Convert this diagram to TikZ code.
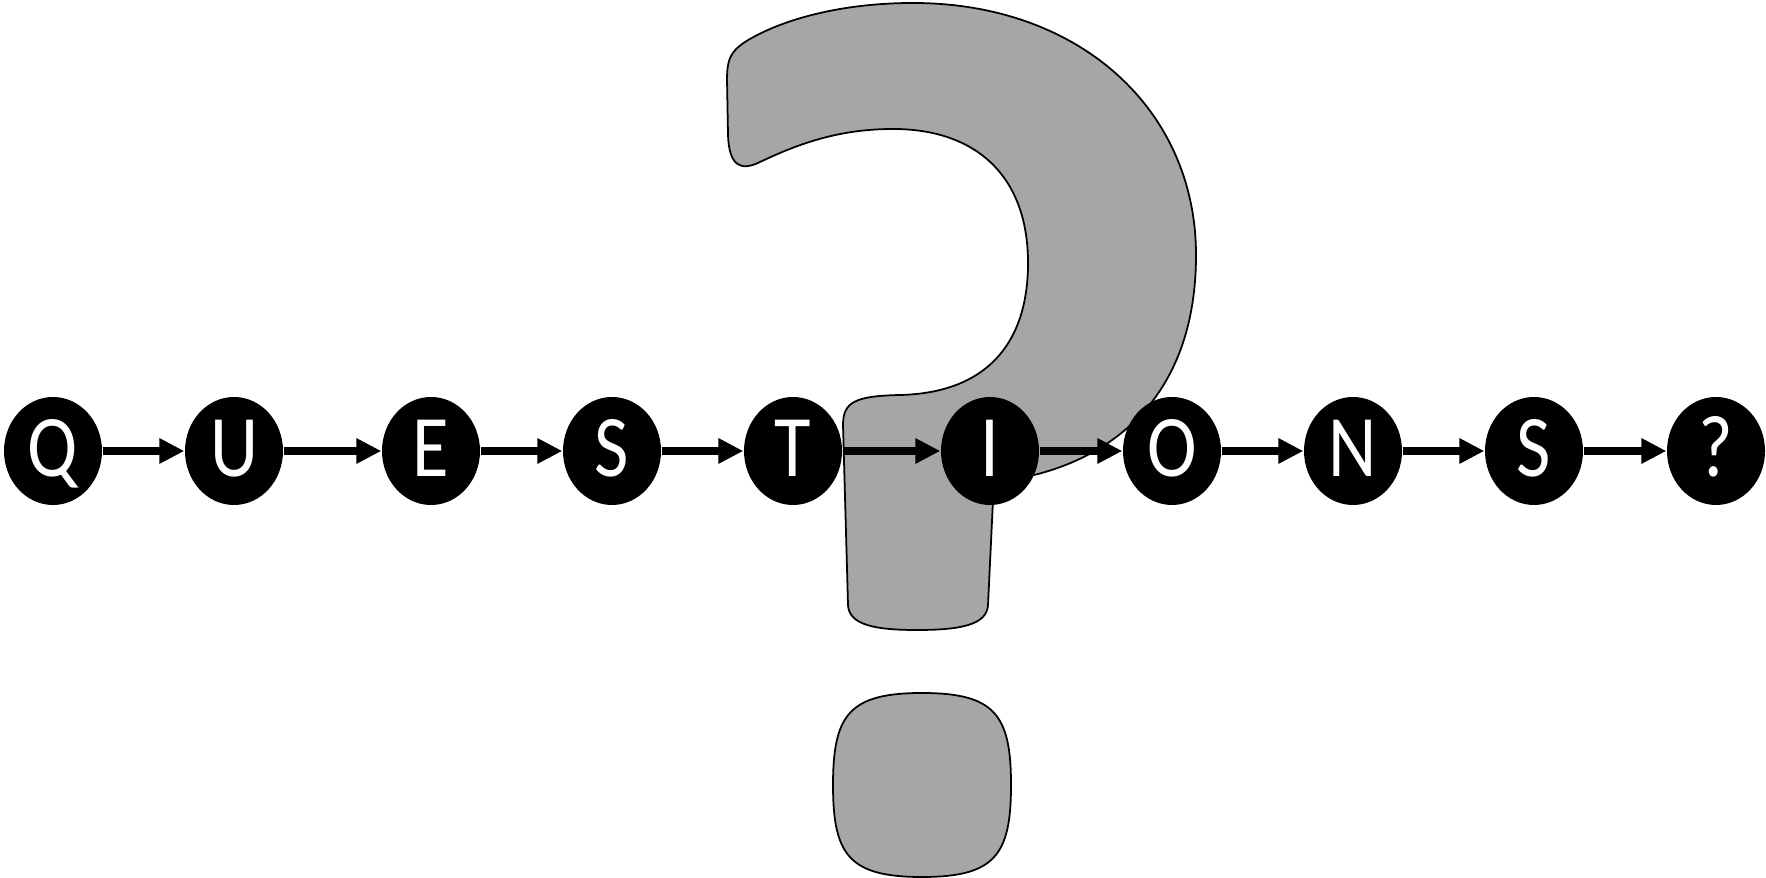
\documentclass[tikz,border=0pt]{standalone}
\usepackage{fontspec}
\newfontfamily\ballfont{Carlito}[FakeStretch=0.85]
\usetikzlibrary{shapes.geometric,arrows.meta}
\definecolor{qgrey}{HTML}{A6A6A6}

\begin{document}
\begin{tikzpicture}[
    x=0.1mm, y=-0.1mm,
    % 背景里的大问号
    qmark/.style={fill=qgrey, draw=black, line width=0.5pt},
    % 黑色字母球
    letterBall/.style={ellipse, fill=black, text=white, inner sep=0pt,
        minimum width=9.8mm, minimum height=10.8mm,
        text height=5.2mm, text depth=0pt,
        font=\ballfont\fontsize{25}{30}\selectfont},
    linkArrow/.style={line width=0.8mm, -{Triangle[length=2.5mm,width=2.4mm]}}
]
    \useasboundingbox (0,0) rectangle (1766,878);

    % Hook + stem
    \draw[qmark] (848,605) -- (843,425)
        .. controls (843,402) and (855,396) .. (900,395)
        .. controls (985,393) and (1028,345) .. (1028,263)
        .. controls (1028,175) and (975,129) .. (893,129)
        .. controls (840,129) and (800,143) .. (760,162)
        .. controls (740,172) and (729,165) .. (728,135)
        -- (727,80)
        .. controls (727,60) and (730,52) .. (745,42)
        .. controls (780,20) and (840,3) .. (913,3)
        .. controls (1080,3) and (1196,110) .. (1196,255)
        .. controls (1196,390) and (1120,455) .. (1030,476)
        .. controls (1000,482) and (995,485) .. (993,500)
        -- (988,605)
        .. controls (987,625) and (960,630) .. (917,630)
        .. controls (875,630) and (849,625) .. (848,605) -- cycle;

    % Dot
    \draw[qmark] (922,693)
        .. controls (995,693) and (1011,715) .. (1011,785)
        .. controls (1011,855) and (995,877) .. (922,877)
        .. controls (849,877) and (833,855) .. (833,785)
        .. controls (833,715) and (849,693) .. (922,693) -- cycle;

    % 字母
    \node[letterBall] (q)  at (53,451)   {Q};
    \node[letterBall] (u)  at (234,451)  {U};
    \node[letterBall] (e)  at (431,451)  {E};
    \node[letterBall] (s1) at (612,451)  {S};
    \node[letterBall] (t)  at (793,451)  {T};
    \node[letterBall] (i)  at (990,451)  {I};
    \node[letterBall] (o)  at (1172,451) {O};
    \node[letterBall] (n)  at (1353,451) {N};
    \node[letterBall] (s2) at (1534,451) {S};
    \node[letterBall] (qm) at (1716,451) {?};

    \foreach \a/\b in {q/u, u/e, e/s1, s1/t, t/i, i/o, o/n, n/s2, s2/qm}
        \draw[linkArrow] (\a) -- (\b);
\end{tikzpicture}
\end{document}
